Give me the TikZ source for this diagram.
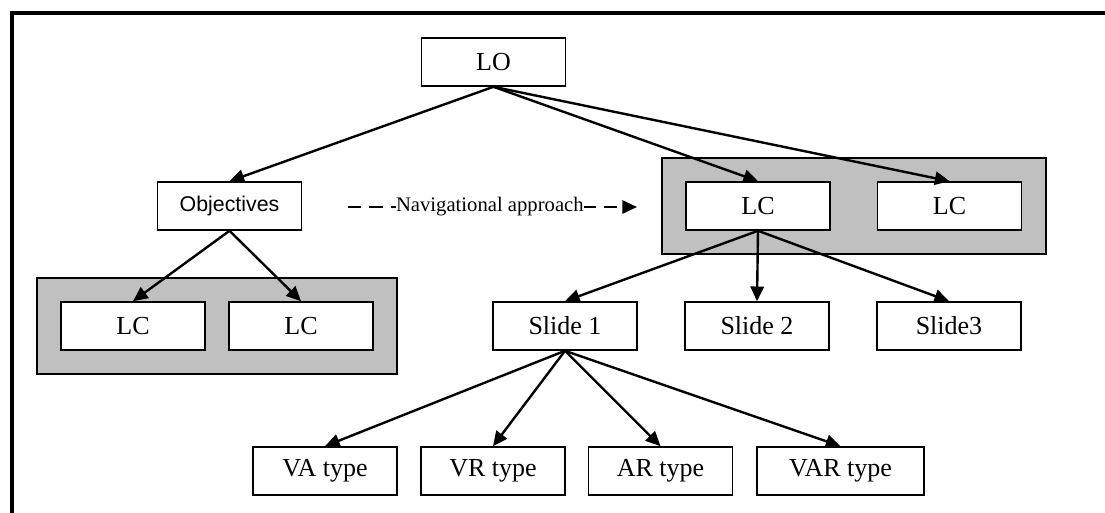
\documentclass[tikz,border=0pt]{standalone}
\usepackage{fontspec}
\setmainfont{Liberation Serif}
\newfontfamily\arialfont{Liberation Sans}
\usepackage{tikz}
\usetikzlibrary{arrows.meta}

\definecolor{silverfill}{RGB}{192,192,192}

\tikzset{
  unitbox/.style={draw, line width=1.2pt, fill=white, minimum width=108pt, minimum height=36pt, inner sep=0pt, font=\fontsize{19.5}{22}\selectfont},
  treearrow/.style={line width=1.8pt, -{Triangle[length=11pt,width=10pt]}},
}

\begin{document}
\begin{tikzpicture}[x=0.75pt,y=0.75pt,yscale=-1,xscale=1]
\useasboundingbox (0,0) rectangle (1105,513);
%Frame
\draw [line width=2.4pt] (1105,13) -- (12,13) -- (12,513) ;
%Shape: Rectangle (left group)
\draw [line width=1.2pt, fill=silverfill] (37,278) rectangle (397,374) ;
%Shape: Rectangle (right group)
\draw [line width=1.2pt, fill=silverfill] (662,158) rectangle (1046,254) ;

% Boxes
\node [unitbox] (lo) at (493.5,62) {LO};
\node [unitbox, font=\arialfont\fontsize{16}{19}\selectfont] (obj) at (229.5,206) {Objectives};
\node [unitbox] (lcA) at (133,326) {LC};
\node [unitbox] (lcB) at (301,326) {LC};
\node [unitbox] (lcC) at (758,206) {LC};
\node [unitbox] (lcD) at (949.5,206) {LC};
\node [unitbox] (slideA) at (565,326) {Slide 1};
\node [unitbox] (slideB) at (757,326) {Slide 2};
\node [unitbox] (slideC) at (949,326) {Slide3};
\node [unitbox] (va) at (325,471) {VA type};
\node [unitbox] (vr) at (493,471) {VR type};
\node [unitbox] (ar) at (660.5,471) {AR type};
\node [unitbox, minimum width=125pt] (var) at (840.5,471) {VAR type};

% Arrows
\draw [treearrow] (lo.south) -- (obj.north) ;
\draw [treearrow] (lo.south) -- (lcC.north) ;
\draw [treearrow] (lo.south) -- (lcD.north) ;
\draw [treearrow] (obj.south) -- (lcA.north) ;
\draw [treearrow] (obj.south) -- (lcB.north) ;
\draw [treearrow] (lcC.south) -- (slideA.north) ;
\draw [treearrow] (lcC.south) -- (slideB.north) ;
\draw [treearrow] (lcC.south) -- (slideC.north) ;
\draw [treearrow] (slideA.south) -- (va.north) ;
\draw [treearrow] (slideA.south) -- (vr.north) ;
\draw [treearrow] (slideA.south) -- (ar.north) ;
\draw [treearrow] (slideA.south) -- (var.north) ;

% Navigational approach
\coordinate (navstart) at (348,207) ;
\coordinate (navend) at (637,207) ;
\draw [line width=1.4pt, dash pattern={on 10pt off 6pt}, -{Triangle[length=11pt,width=10pt]}] (navstart) -- (navend)
  node [midway, fill=white, inner sep=0pt, font=\fontsize{15.5}{18}\selectfont, xshift=-2pt] (navtext) {Navigational approach} ;
\end{tikzpicture}
\end{document}
